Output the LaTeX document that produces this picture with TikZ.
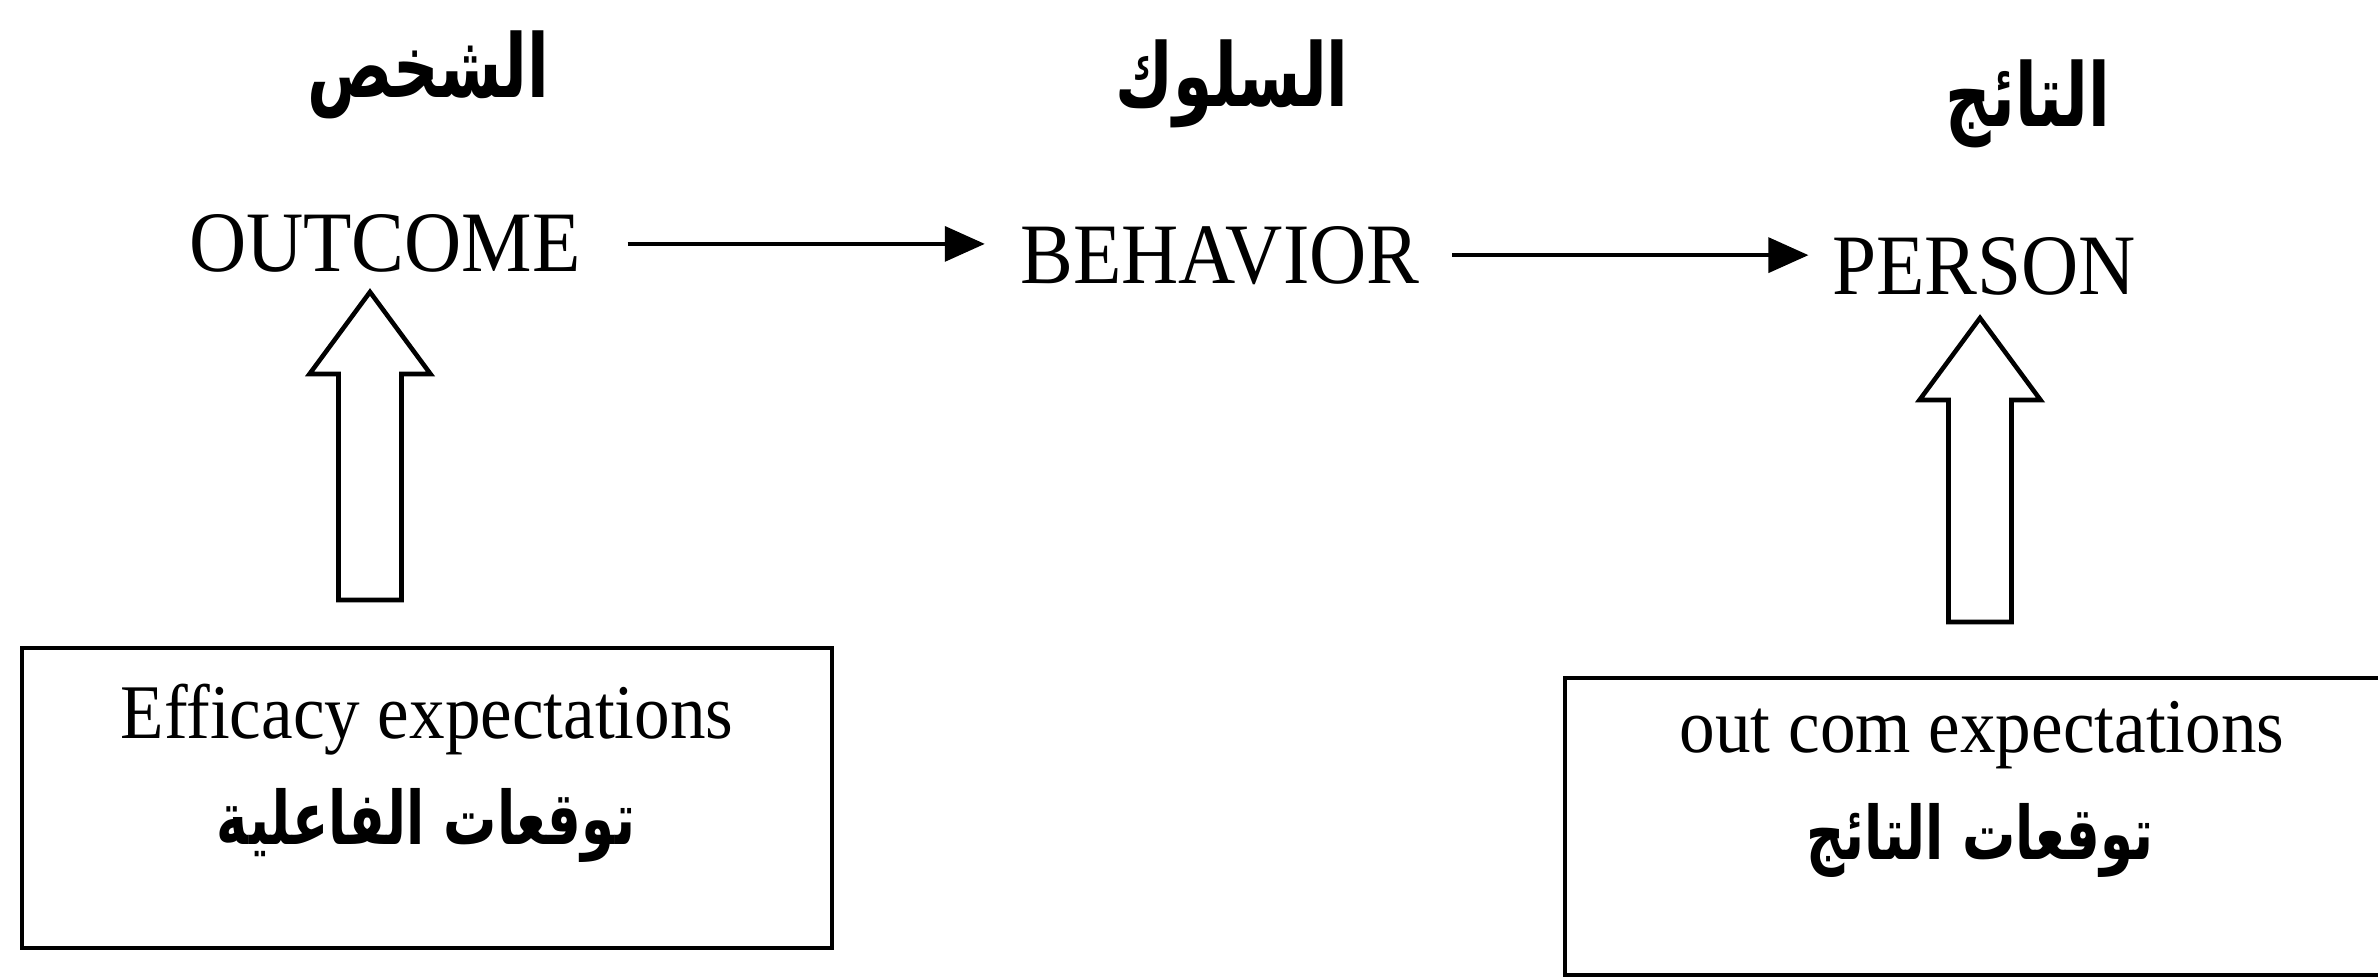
\documentclass[tikz,border=0pt]{standalone}
\usepackage{fontspec}
\setmainfont{Liberation Serif}[FakeStretch=0.92]
\newfontfamily\arabicfont[Script=Arabic,FakeStretch=0.72]{DejaVu Sans}
\TeXXeTstate=1
\usetikzlibrary{arrows.meta}
\newcommand{\ar}[1]{\arabicfont\bfseries\beginR #1\endR}
% hollow upward arrow: #1 foot, #2 tip
\newcommand{\hollowup}[2]{%
  \draw[hollow] ([xshift=-3.15mm]#1) -- ([shift={(-0.315,-0.82)}]#2)
    -- ([shift={(-0.605,-0.82)}]#2) -- (#2) -- ([shift={(0.605,-0.82)}]#2)
    -- ([shift={(0.315,-0.82)}]#2) -- ([xshift=3.15mm]#1) -- cycle;}
\begin{document}
\begin{tikzpicture}
\tikzstyle{lbl}=[inner sep=0,anchor=base,font=\fontsize{24.5}{29}\selectfont]
\tikzstyle{head}=[inner sep=0,font=\fontsize{25}{30}\selectfont]
\tikzstyle{box}=[draw,line width=1.3pt,rectangle]
\tikzstyle{btxt}=[inner sep=0,anchor=base,font=\fontsize{22}{26}\selectfont]
\tikzstyle{atxt}=[inner sep=0,font=\fontsize{21}{25}\selectfont]
\tikzstyle{flow}=[line width=1pt,-{Triangle[length=4mm,width=3.5mm]}]
\tikzstyle{hollow}=[line width=1.3pt,line join=miter]
\useasboundingbox (0,0) rectangle (23.78,-9.79);
% headings
\node[head](hperson) at (4.28,-0.75) {\ar{الشخص}};
\node[head](hbehav) at (12.32,-0.84) {\ar{السلوك}};
\node[head](hresult) at (20.28,-1.04) {\ar{التائج}};
% main row
\node[lbl](outcome) at (3.85,-2.72) {OUTCOME};
\node[lbl](behavior) at (12.20,-2.83) {BEHAVIOR};
\node[lbl](person) at (19.84,-2.95) {PERSON};
\draw[flow,shorten <=4.6mm,shorten >=3.5mm] (outcome.east) -- (outcome.east -| behavior.west);
\draw[flow,shorten <=3.2mm,shorten >=2.3mm] (behavior.east) -- (behavior.east -| person.west);
% boxes
\node[box,minimum width=8.10cm,minimum height=3.00cm](effbox) at (4.27,-7.98) {};
\node[box,minimum width=8.32cm,minimum height=2.97cm](outbox) at (19.81,-8.265) {};
\node[btxt](eff) at (4.27,-7.38) {Efficacy expectations};
\node[atxt](effar) at (4.26,-8.25) {\ar{توقعات الفاعلية}};
\node[btxt](out) at (19.82,-7.52) {out com expectations};
\node[atxt](outar) at (19.80,-8.40) {\ar{توقعات التائج}};
% hollow arrows
\coordinate (ltip) at (3.70,-2.92);
\coordinate (lfoot) at (3.70,-6.00);
\coordinate (rtip) at (19.80,-3.18);
\coordinate (rfoot) at (19.80,-6.22);
\hollowup{lfoot}{ltip}
\hollowup{rfoot}{rtip}
\end{tikzpicture}
\end{document}
